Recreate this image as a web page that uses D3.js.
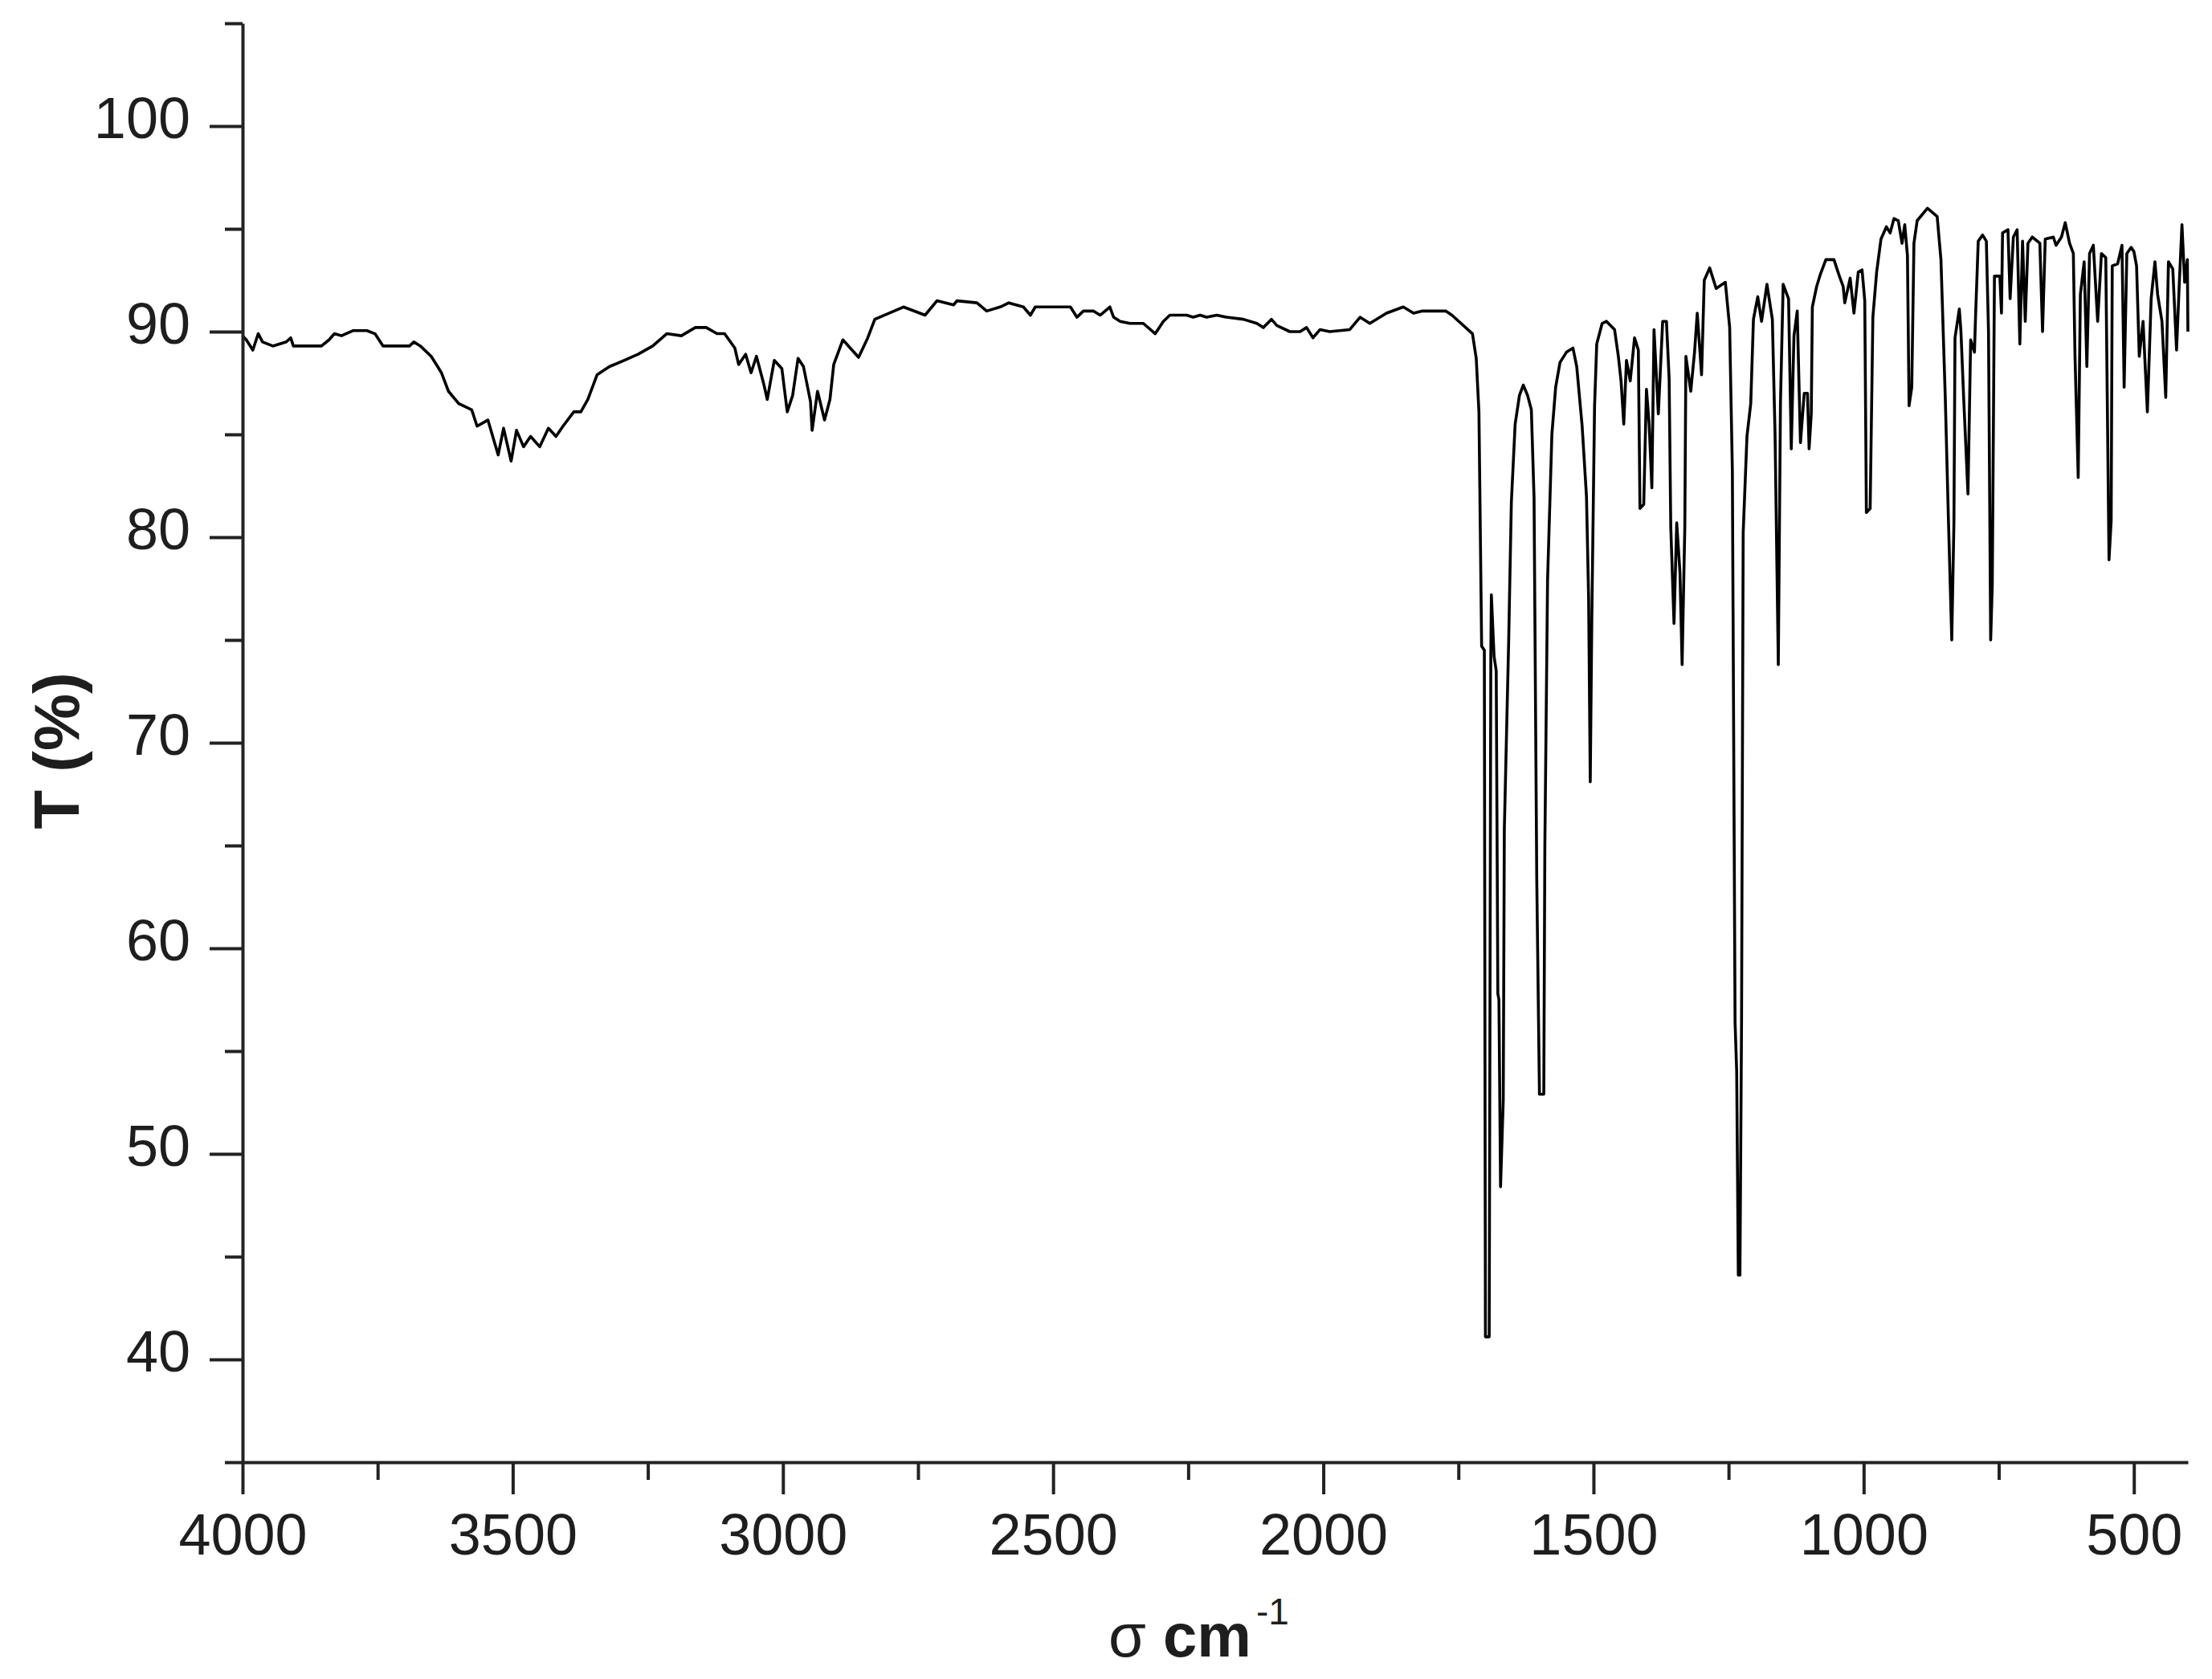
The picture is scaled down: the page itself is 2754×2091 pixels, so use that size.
<!DOCTYPE html>
<html>
<head>
<meta charset="utf-8">
<script src="https://cdn.jsdelivr.net/npm/d3@7"></script>
<style>
  html, body { margin: 0; padding: 0; background: #fff; }
  svg { display: block; }
  text { font-family: "Liberation Sans", Arial, sans-serif; }
</style>
</head>
<body>
<div id="chart"></div>
<script>
const WIDTH = 2754;
const HEIGHT = 2091;

// [wavenumber (cm-1), transmittance (%)], high to low wavenumber
const ohRegion = [
  [4000, 89.8], [3993, 89.6], [3981, 89.1], [3971, 89.9], [3963, 89.5], [3944, 89.3], [3919, 89.5],
  [3911, 89.7], [3906, 89.3], [3869, 89.3], [3854, 89.3], [3840, 89.6], [3830, 89.9], [3817, 89.8],
  [3795, 90.05], [3770, 90.05], [3755, 89.9], [3740, 89.3], [3706, 89.3], [3691, 89.3], [3683, 89.5],
  [3671, 89.3], [3651, 88.8], [3639, 88.3], [3632, 88.0], [3619, 87.1], [3600, 86.5], [3576, 86.2],
  [3566, 85.4], [3546, 85.7], [3527, 84.0], [3517, 85.3], [3503, 83.7], [3493, 85.2], [3480, 84.4],
  [3467, 84.9], [3450, 84.4], [3434, 85.3], [3420, 84.9], [3407, 85.4], [3387, 86.1], [3374, 86.1],
  [3361, 86.7], [3344, 87.9], [3321, 88.3], [3294, 88.6], [3268, 88.9], [3241, 89.3], [3215, 89.9],
  [3188, 89.8], [3162, 90.2], [3142, 90.2], [3122, 89.9], [3108, 89.9], [3089, 89.2], [3082, 88.4],
  [3069, 88.9], [3059, 88.0], [3049, 88.8], [3035, 87.4], [3029, 86.7], [3016, 88.6], [3002, 88.2],
  [2992, 86.1], [2982, 86.9], [2972, 88.7], [2962, 88.3], [2949, 86.6], [2946, 85.2], [2936, 87.1],
  [2923, 85.7], [2913, 86.7], [2906, 88.4], [2889, 89.6], [2860, 88.75], [2843, 89.7], [2830, 90.6],
  [2803, 90.9], [2777, 91.2], [2737, 90.8]
];

const flatRegion = [
  [2715, 91.5], [2684, 91.3], [2678, 91.5], [2641, 91.4], [2623, 91.0], [2598, 91.2], [2582, 91.4],
  [2555, 91.2], [2542, 90.8], [2533, 91.2], [2499, 91.2], [2468, 91.2], [2456, 90.7], [2444, 91.0],
  [2425, 91.0], [2413, 90.8], [2395, 91.2], [2388, 90.7], [2376, 90.5], [2358, 90.4], [2333, 90.4],
  [2311, 89.9], [2296, 90.5], [2284, 90.8], [2253, 90.8], [2241, 90.7], [2228, 90.8], [2216, 90.7],
  [2197, 90.8], [2179, 90.7], [2148, 90.6], [2123, 90.4], [2111, 90.2], [2096, 90.6], [2086, 90.3],
  [2062, 90.0], [2043, 90.0], [2031, 90.2], [2019, 89.7], [2006, 90.1], [1988, 90.0], [1951, 90.1],
  [1932, 90.7], [1914, 90.4], [1883, 90.9], [1852, 91.2], [1833, 90.9], [1818, 91.0], [1773, 91.0],
  [1762, 90.8], [1724, 89.9]
];

const carbonylRegion = [
  [1717, 88.7], [1712, 86.1], [1707, 74.7], [1702, 74.5], [1700, 41.1], [1693, 41.1], [1690, 74.4],
  [1689, 77.2], [1684, 74.2], [1680, 73.5], [1677, 57.8], [1675, 57.5], [1672, 48.4], [1667, 52.6],
  [1665, 65.8], [1657, 74.9], [1652, 81.7], [1645, 85.5], [1637, 86.9], [1630, 87.4], [1622, 86.9],
  [1615, 86.2], [1610, 81.9], [1605, 63.4], [1600, 52.9], [1592, 52.9], [1590, 65.0], [1585, 77.9],
  [1577, 85.0], [1570, 87.3], [1562, 88.5], [1550, 89.0], [1538, 89.2], [1531, 88.3], [1521, 85.4],
  [1513, 82.0], [1509, 77.0], [1506, 68.1], [1503, 76.3], [1498, 86.4], [1494, 89.4], [1484, 90.4],
  [1476, 90.5]
];

const fingerprintRegion = [
  [1461, 90.1], [1454, 88.8], [1449, 87.6], [1444, 85.5], [1439, 88.6], [1432, 87.6], [1424, 89.7],
  [1417, 89.1], [1414, 81.4], [1407, 81.6], [1402, 87.2], [1397, 85.5], [1392, 82.4], [1388, 90.1],
  [1380, 86.0], [1372, 90.5], [1365, 90.5], [1360, 87.7], [1357, 80.5], [1351, 75.8], [1346, 80.7],
  [1340, 78.3], [1336, 73.8], [1331, 80.5], [1329, 88.8], [1320, 87.1], [1313, 89.0], [1308, 90.9],
  [1300, 87.9], [1295, 92.5], [1285, 93.1], [1273, 92.1], [1256, 92.4], [1248, 90.2], [1243, 83.2],
  [1238, 56.4], [1235, 54.0], [1232, 44.1], [1229, 44.1], [1226, 56.5], [1223, 80.2], [1216, 84.9],
  [1209, 86.5], [1204, 90.6], [1196, 91.7], [1189, 90.5], [1179, 92.3], [1169, 90.6], [1164, 85.0],
  [1158, 73.8], [1154, 86.5], [1149, 92.3], [1139, 91.6], [1134, 84.3], [1129, 89.8], [1123, 91.0],
  [1117, 84.6], [1110, 87.0], [1104, 87.0], [1101, 84.3], [1097, 86.0], [1095, 91.2]
];

const lowRegion = [
  [1087, 92.2], [1080, 92.8], [1070, 93.5], [1055, 93.5], [1045, 92.7], [1038, 92.2], [1035, 91.4],
  [1025, 92.6], [1018, 90.9], [1010, 92.9], [1003, 93.0], [998, 91.5], [995, 81.2], [988, 81.4],
  [983, 90.7], [976, 92.9], [968, 94.5], [958, 95.1], [951, 94.8], [944, 95.5], [936, 95.4],
  [929, 94.3], [924, 95.2], [919, 93.7], [916, 86.4], [911, 87.3], [907, 94.3], [901, 95.4],
  [882, 96.0], [864, 95.6], [857, 93.5], [849, 86.8], [843, 80.7], [837, 75.0], [833, 80.7],
  [831, 89.7], [823, 91.1], [820, 90.0], [815, 86.8], [807, 82.1], [802, 89.6], [795, 89.0],
  [793, 90.7], [788, 94.4], [780, 94.7], [773, 94.4], [769, 90.0], [765, 75.0], [762, 77.7],
  [758, 92.7], [748, 92.7], [745, 90.9], [743, 94.8], [733, 94.96], [729, 91.6], [723, 94.6],
  [716, 94.96], [711, 89.4], [706, 94.4], [701, 90.5], [696, 94.3], [688, 94.6], [674, 94.3],
  [669, 90.0], [664, 94.5], [649, 94.6], [644, 94.2], [634, 94.6], [627, 95.3], [619, 94.3],
  [612, 93.8], [609, 88.9], [603, 82.9], [599, 91.8], [592, 93.4], [587, 88.3], [582, 93.8],
  [575, 94.2], [567, 90.5], [560, 93.8], [552, 93.6], [546, 78.9], [542, 80.8], [540, 93.2],
  [530, 93.3], [522, 94.2], [518, 87.3], [513, 93.8], [505, 94.1], [500, 93.9], [495, 93.2],
  [490, 88.8], [483, 90.5], [475, 86.1], [468, 91.6], [461, 93.4], [456, 91.8], [448, 90.5],
  [441, 86.8], [436, 93.4], [428, 93.05], [421, 89.1], [416, 92.3], [411, 95.2], [406, 92.4],
  [401, 93.5], [400, 90.0]
];

const xMajorTicks = [4000, 3500, 3000, 2500, 2000, 1500, 1000, 500];
const xMinorTicks = [3750, 3250, 2750, 2250, 1750, 1250, 750];
const yMajorTicks = [40, 50, 60, 70, 80, 90, 100];
const yMinorTicks = [35, 45, 55, 65, 75, 85, 95, 105];

const spectrum = [...ohRegion, ...flatRegion, ...carbonylRegion, ...fingerprintRegion, ...lowRegion];

const AXIS_COLOR = "#222";
const TEXT_COLOR = "#1e1e1e";

const svg = d3.select("#chart")
  .append("svg")
  .attr("width", WIDTH)
  .attr("height", HEIGHT)
  .style("background", "#fff");

const x = d3.scaleLinear().domain([4000, 400]).range([302, 2724]);
const y = d3.scaleLinear().domain([35, 105]).range([1821, 29]);

// spectrum trace
const line = d3.line()
  .x(d => x(d[0]))
  .y(d => y(d[1]));

svg.append("path")
  .datum(spectrum)
  .attr("fill", "none")
  .attr("stroke", "#000")
  .attr("stroke-width", 3.6)
  .attr("stroke-linejoin", "round")
  .attr("d", line);

function styleAxis(g, showDomain) {
  g.selectAll("line").attr("stroke", AXIS_COLOR).attr("stroke-width", 4);
  g.select(".domain")
    .attr("stroke", AXIS_COLOR)
    .attr("stroke-width", 4)
    .style("display", showDomain ? null : "none");
  g.selectAll("text")
    .attr("fill", TEXT_COLOR)
    .style("font-size", "72px")
    .style("font-family", "'Liberation Sans', Arial, sans-serif");
}

// x axis: minor then major
svg.append("g")
  .attr("transform", `translate(0,${y(35)})`)
  .call(d3.axisBottom(x).tickValues(xMinorTicks).tickSize(22).tickSizeOuter(0).tickFormat(""))
  .call(g => styleAxis(g, false));

svg.append("g")
  .attr("transform", `translate(0,${y(35)})`)
  .call(d3.axisBottom(x).tickValues(xMajorTicks).tickSize(40).tickSizeOuter(0).tickPadding(24).tickFormat(d3.format("d")))
  .call(g => styleAxis(g, true));

// y axis: minor then major
svg.append("g")
  .attr("transform", `translate(${x(4000)},0)`)
  .call(d3.axisLeft(y).tickValues(yMinorTicks).tickSize(22).tickSizeOuter(0).tickFormat(""))
  .call(g => styleAxis(g, false));

svg.append("g")
  .attr("transform", `translate(${x(4000)},0)`)
  .call(d3.axisLeft(y).tickValues(yMajorTicks).tickSize(41).tickSizeOuter(0).tickPadding(24).tickFormat(d3.format("d")))
  .call(g => styleAxis(g, true))
  .call(g => g.selectAll("text").attr("dy", "0.2em"));

// axis titles
svg.append("text")
  .attr("transform", "translate(70,935) rotate(-90)")
  .attr("text-anchor", "middle")
  .attr("dominant-baseline", "central")
  .attr("fill", TEXT_COLOR)
  .style("font-size", "80px")
  .style("font-weight", "bold")
  .text("T (%)");

const xTitle = svg.append("text")
  .attr("x", 1380)
  .attr("y", 2063)
  .attr("fill", TEXT_COLOR)
  .style("font-size", "76px");
xTitle.append("tspan").text("σ ");
xTitle.append("tspan").style("font-weight", "bold").text("cm");
xTitle.append("tspan")
  .attr("dx", 6)
  .attr("dy", -40)
  .style("font-size", "46px")
  .text("-1");
</script>
</body>
</html>
